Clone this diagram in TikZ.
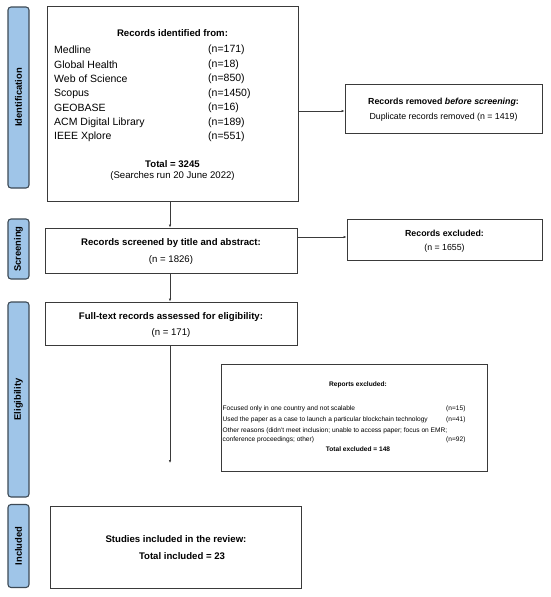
\documentclass[tikz,border=0pt]{standalone}
\usepackage{fontspec}
\setmainfont{Liberation Sans}
\usetikzlibrary{arrows.meta,calc}
\definecolor{sidefill}{HTML}{9FC5E8}
\definecolor{sidedraw}{HTML}{3D4A56}
\definecolor{boxdraw}{HTML}{3A3A3A}
\tikzset{
  sidebar/.style={draw=sidedraw,line width=1.1pt,fill=sidefill,rounded corners=3pt,inner sep=0pt},
  sidetext/.style={rotate=90,font=\fontsize{9.4}{10}\selectfont\bfseries,inner sep=0pt},
  flowbox/.style={draw=boxdraw,line width=1pt,inner sep=0pt},
  ttl/.style={font=\fontsize{9.6}{11}\selectfont\bfseries,inner sep=0pt},
  sub/.style={font=\fontsize{9.6}{11}\selectfont,inner sep=0pt},
  item/.style={font=\fontsize{10.5}{12}\selectfont,inner sep=0pt,anchor=west},
  sttl/.style={font=\fontsize{8.8}{10}\selectfont\bfseries,inner sep=0pt},
  ssub/.style={font=\fontsize{8.8}{10}\selectfont,inner sep=0pt},
  tiny/.style={font=\fontsize{6.6}{8}\selectfont,inner sep=0pt,anchor=west},
  tinyb/.style={font=\fontsize{6.6}{8}\selectfont\bfseries,inner sep=0pt},
  arr/.style={draw=boxdraw,line width=0.6pt,-{Latex[length=3pt,width=2.6pt]}}
}
\begin{document}
\begin{tikzpicture}[x=1pt,y=-1pt]
\useasboundingbox[fill=white] (0,0) rectangle (550,597);
% sidebars
\node[sidebar,minimum width=21pt,minimum height=181pt] (sid) at (18.5,97.5) {};
\node[sidetext] at (sid.center) {Identification};
\node[sidebar,minimum width=21pt,minimum height=60pt] (sscr) at (18.5,249) {};
\node[sidetext] at (sscr.center) {Screening};
\node[sidebar,minimum width=21pt,minimum height=195pt] (sel) at (18.5,399.5) {};
\node[sidetext] at (sel.center) {Eligibility};
\node[sidebar,minimum width=21pt,minimum height=83pt] (sinc) at (18.5,546) {};
\node[sidetext] at (sinc.center) {Included};
% identification box
\node[flowbox,minimum width=251pt,minimum height=195pt] (ident) at (172.5,103.5) {};
\node[ttl] (identt) at (172.5,33) {Records identified from:};
\node[item] (i1) at (54,50) {Medline};
\node[item] (i2) at (54,64.3) {Global Health};
\node[item] (i3) at (54,79) {Web of Science};
\node[item] (i4) at (54,93.5) {Scopus};
\node[item] (i5) at (54,108) {GEOBASE};
\node[item] (i6) at (54,122.3) {ACM Digital Library};
\node[item] (i7) at (54,136.7) {IEEE Xplore};
\node[item] (n1) at (208,50) {(n=171)};
\node[item] (n2) at (208,64.3) {(n=18)};
\node[item] (n3) at (208,79) {(n=850)};
\node[item] (n4) at (208,93.5) {(n=1450)};
\node[item] (n5) at (208,108) {(n=16)};
\node[item] (n6) at (208,122.3) {(n=189)};
\node[item] (n7) at (208,136.7) {(n=551)};
\node[ttl] (tot) at (172.5,164.5) {Total = 3245};
\node[sub] (srch) at (172.5,176.5) {(Searches run 20 June 2022)};
% removed box
\node[flowbox,minimum width=197pt,minimum height=49pt] (rem) at (443.5,108.5) {};
\node[sttl] (remt) at (443.5,102) {Records removed \textit{before screening}:};
\node[ssub] (rems) at (443.5,117) {Duplicate records removed (n = 1419)};
% screening box
\node[flowbox,minimum width=252pt,minimum height=45pt] (scr) at (171,250.5) {};
\node[ttl] (scrt) at (171,243) {Records screened by title and abstract:};
\node[sub] (scrs) at (171,260) {(n = 1826)};
% excluded box
\node[flowbox,minimum width=195pt,minimum height=41pt] (exc) at (444.5,239.5) {};
\node[sttl] (exct) at (444.5,233) {Records excluded:};
\node[ssub] (excs) at (444.5,248) {(n = 1655)};
% full-text box
\node[flowbox,minimum width=252pt,minimum height=43pt] (full) at (171,323.5) {};
\node[ttl] (fullt) at (171,317) {Full-text records assessed for eligibility:};
\node[sub] (fulls) at (171,333) {(n = 171)};
% reports excluded box
\node[flowbox,minimum width=266pt,minimum height=107pt] (rep) at (354,417.5) {};
\node[tinyb] (rept) at (358,385) {Reports excluded:};
\node[tiny] (r1) at (222.5,409) {Focused only in one country and not scalable};
\node[tiny] (r1n) at (446,409) {(n=15)};
\node[tiny] (r2) at (222.5,420) {Used the paper as a case to launch a particular blockchain technology};
\node[tiny] (r2n) at (446,420) {(n=41)};
\node[tiny] (r3) at (222.5,431) {Other reasons (didn't meet inclusion; unable to access paper; focus on EMR;};
\node[tiny] (r4) at (222.5,439.5) {conference proceedings; other)};
\node[tiny] (r4n) at (446,439.5) {(n=92)};
\node[tinyb] (rtot) at (358,449.5) {Total excluded = 148};
% included box
\node[flowbox,minimum width=251pt,minimum height=82pt] (inc) at (175.5,547) {};
\node[ttl] (inct) at (176,539) {Studies included in the review:};
\node[ttl] (incs) at (182,556) {Total included = 23};
% connectors
\coordinate (tip) at (170,463);
\draw[arr] (ident.south -| tip) -- (scr.north -| tip);
\draw[arr] (scr.south -| tip) -- (full.north -| tip);
\draw[arr] (full.south -| tip) -- (tip);
\draw[arr] (ident.east |- 0,111) -- (rem.west |- 0,111);
\draw[arr] (scr.east |- 0,237) -- (exc.west |- 0,237);
\end{tikzpicture}
\end{document}
